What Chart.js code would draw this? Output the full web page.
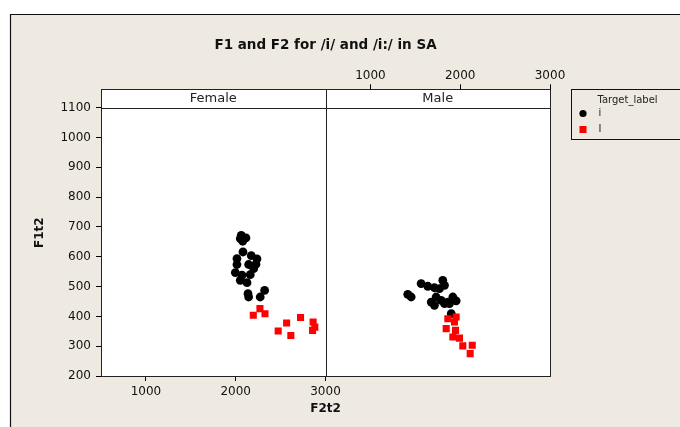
<!DOCTYPE html>
<html>
<head>
<meta charset="utf-8">
<script src="https://cdn.jsdelivr.net/npm/chart.js@4/dist/chart.umd.min.js"></script>
<style>
html,body{margin:0;padding:0;background:#fff;}
#wrap{position:relative;width:680px;height:427px;}
canvas{display:block;}
</style>
</head>
<body>
<div id="wrap"><canvas id="c" width="680" height="427"></canvas></div>
<script>
// ---- data ----
const chartTitle = 'F1 and F2 for /i/ and /i:/ in SA';
const panels = ['Female', 'Male'];
const seriesLabels = ['i', 'I'];
const legendTitle = 'Target_label';
const xTitle = 'F2t2';
const yTitle = 'F1t2';
const xTickValues = [1000, 2000, 3000];
const yTickValues = [200, 300, 400, 500, 600, 700, 800, 900, 1000, 1100];

// Female, /i/  (F2, F1)
const femaleI_F2 = [2062, 2114, 2078, 2051, 2173, 2237, 2014, 2014, 2144, 2200, 1996, 2070, 2162, 2051, 2126, 2137, 2144, 2322, 2273, 2081, 2226];
const femaleI_F1 = [672, 663, 652, 661, 604, 593, 594, 574, 574, 560, 547, 538, 540, 521, 513, 476, 465, 487, 465, 616, 575];
// Female, /I/
const femaleII_F2 = [2270, 2326, 2196, 2722, 2567, 2862, 2881, 2473, 2614, 2856];
const femaleII_F1 = [426, 409, 404, 396, 378, 381, 364, 351, 336, 353];
// Male, /i/
const maleI_F2 = [1416, 1454, 1565, 1639, 1713, 1806, 1825, 1769, 1677, 1732, 1788, 1862, 1918, 1955, 1713, 1825, 1881, 1900];
const maleI_F1 = [474, 465, 510, 501, 496, 521, 504, 493, 448, 465, 454, 448, 465, 452, 437, 443, 443, 409];
// Male, /I/
const maleII_F2 = [1862, 1955, 1844, 1948, 1918, 1992, 2029, 2134, 2111, 1936];
const maleII_F1 = [392, 398, 359, 353, 331, 327, 301, 303, 275, 381];

// ---- helpers ----
const pts = (xs, ys) => xs.map((x, i) => ({x: x, y: ys[i]}));
const FONT = 'DejaVu Sans';
Chart.defaults.font.family = FONT;
Chart.defaults.color = '#111';

const X_MIN = 500, X_MAX = 3000;
const Y_MIN = 200, Y_MAX = 1161.7; // top part of range holds the panel strip

const BLACK = '#000000';
const RED = '#ff0000';

const datasets = [
  {label: seriesLabels[0], data: pts(femaleI_F2, femaleI_F1), xAxisID: 'xF', yAxisID: 'y',
   pointStyle: 'circle', pointRadius: 4.4, backgroundColor: BLACK, borderColor: BLACK, borderWidth: 0, order: 2},
  {label: seriesLabels[1], data: pts(femaleII_F2, femaleII_F1), xAxisID: 'xF', yAxisID: 'y',
   pointStyle: 'rect', pointRadius: 5, backgroundColor: RED, borderColor: RED, borderWidth: 0, order: 1},
  {label: seriesLabels[0], data: pts(maleI_F2, maleI_F1), xAxisID: 'xM', yAxisID: 'y',
   pointStyle: 'circle', pointRadius: 4.4, backgroundColor: BLACK, borderColor: BLACK, borderWidth: 0, order: 2},
  {label: seriesLabels[1], data: pts(maleII_F2, maleII_F1), xAxisID: 'xM', yAxisID: 'y',
   pointStyle: 'rect', pointRadius: 5, backgroundColor: RED, borderColor: RED, borderWidth: 0, order: 1}
];

const tickFont = {family: FONT, size: 12};
const keepTicks = (vals) => (scale) => { scale.ticks = vals.map(v => ({value: v})); };
const plain = (v) => String(v);

function hiddenX(position, h) {
  return {
    type: 'linear', position: position, stack: position === 'top' ? 'top' : 'bot', stackWeight: 1,
    min: X_MIN, max: X_MAX,
    ticks: {display: false, stepSize: 1000, includeBounds: false},
    grid: {display: false}, border: {display: false},
    afterFit: (s) => { s.height = h; }
  };
}
function shownX(position, h, pad) {
  return {
    type: 'linear', position: position, stack: position === 'top' ? 'top' : 'bot', stackWeight: 1,
    min: X_MIN, max: X_MAX,
    ticks: {stepSize: 1000, includeBounds: false, autoSkip: false, maxRotation: 0, minRotation: 0,
            padding: pad, font: tickFont, color: '#111', callback: plain},
    afterBuildTicks: keepTicks(xTickValues),
    grid: {display: true, drawOnChartArea: false, drawTicks: true, tickLength: 5, tickColor: '#000', tickWidth: 1},
    border: {display: false},
    afterFit: (s) => { s.height = h; }
  };
}

const bgPlugin = {
  id: 'bg',
  beforeDraw(chart) {
    const ctx = chart.ctx;
    const a = chart.chartArea;
    ctx.save();
    ctx.fillStyle = '#ffffff';
    ctx.fillRect(0, 0, chart.width, chart.height);
    ctx.fillStyle = '#eeeae1';
    ctx.fillRect(10, 14, chart.width - 10, chart.height - 14);
    ctx.strokeStyle = '#111';
    ctx.lineWidth = 1.2;
    ctx.beginPath();
    ctx.moveTo(10.5, chart.height); ctx.lineTo(10.5, 14.5); ctx.lineTo(chart.width, 14.5);
    ctx.stroke();
    ctx.fillStyle = '#ffffff';
    ctx.fillRect(a.left, a.top, a.right - a.left, a.bottom - a.top);
    ctx.restore();
  },
  afterDraw(chart) {
    const ctx = chart.ctx;
    const a = chart.chartArea;
    const y = chart.scales.y;
    const xF = chart.scales.xF;
    const stripY = Math.round(y.getPixelForValue(1100)) + 0.5;
    const L = Math.round(a.left) + 0.5, R = Math.round(a.right) + 0.5;
    const T = Math.round(a.top) + 0.5, B = Math.round(a.bottom) + 0.5;
    const D = Math.round(xF.right) + 0.5;
    ctx.save();
    ctx.strokeStyle = '#222';
    ctx.lineWidth = 1;
    ctx.strokeRect(L, T, R - L, B - T);
    ctx.beginPath();
    ctx.moveTo(L, stripY); ctx.lineTo(R, stripY);
    ctx.moveTo(D, T); ctx.lineTo(D, B);
    ctx.stroke();
    // strip labels
    ctx.fillStyle = '#222';
    ctx.font = '13px "' + FONT + '"';
    ctx.textAlign = 'center';
    ctx.textBaseline = 'middle';
    const midY = (a.top + y.getPixelForValue(1100)) / 2 + 0.5;
    ctx.fillText(panels[0], (a.left + xF.right) / 2, midY);
    ctx.fillText(panels[1], (xF.right + a.right) / 2, midY);

    // legend box
    const lx = 571.5, ly = 89.5, lw = 112, lh = 50;
    ctx.strokeStyle = '#111';
    ctx.strokeRect(lx, ly, lw, lh);
    ctx.font = '10px "' + FONT + '"';
    ctx.textAlign = 'left';
    ctx.fillStyle = '#222';
    ctx.fillText(legendTitle, 597.5, 100);
    const ds = chart.data.datasets;
    ctx.fillStyle = ds[0].backgroundColor;
    ctx.beginPath(); ctx.arc(583, 113.5, 3.6, 0, Math.PI * 2); ctx.fill();
    ctx.fillStyle = '#222';
    ctx.fillText(ds[0].label, 598.5, 113.5);
    ctx.fillStyle = ds[1].backgroundColor;
    ctx.fillRect(579.5, 126, 7, 7);
    ctx.fillStyle = '#222';
    ctx.fillText(ds[1].label, 598.5, 129.5);
    ctx.restore();
  }
};

new Chart(document.getElementById('c'), {
  type: 'scatter',
  data: {datasets: datasets},
  options: {
    responsive: false,
    animation: false,
    devicePixelRatio: 1,
    events: [],
    layout: {padding: {left: 29, right: 130, top: 0, bottom: 0}},
    plugins: {
      legend: {display: false},
      tooltip: {enabled: false},
      title: {display: true, text: chartTitle, fullSize: false, color: '#111',
              font: {family: FONT, size: 13.5, weight: 'bold'}, padding: {top: 36.9, bottom: 16.2}},
      subtitle: {display: true, text: xTitle, position: 'bottom', fullSize: false, color: '#111',
              font: {family: FONT, size: 12, weight: 'bold'}, padding: {top: 3.8, bottom: 10.8}}
    },
    scales: {
      xF: shownX('bottom', 22, 3.5),
      xM: hiddenX('bottom', 22),
      xMt: shownX('top', 20, 1),
      xFt: hiddenX('top', 20),
      y: {
        type: 'linear', position: 'left', min: Y_MIN, max: Y_MAX,
        ticks: {stepSize: 100, includeBounds: false, autoSkip: false, padding: 5, font: tickFont, color: '#111', callback: plain},
        afterBuildTicks: keepTicks(yTickValues),
        grid: {display: true, drawOnChartArea: false, drawTicks: true, tickLength: 5, tickColor: '#000'},
        border: {display: false},
        title: {display: true, text: yTitle, color: '#111', font: {family: FONT, size: 12, weight: 'bold'}, padding: {top: 4, bottom: 4}},
        afterFit: (s) => { s.width = 72; }
      }
    }
  },
  plugins: [bgPlugin]
});
</script>
</body>
</html>
